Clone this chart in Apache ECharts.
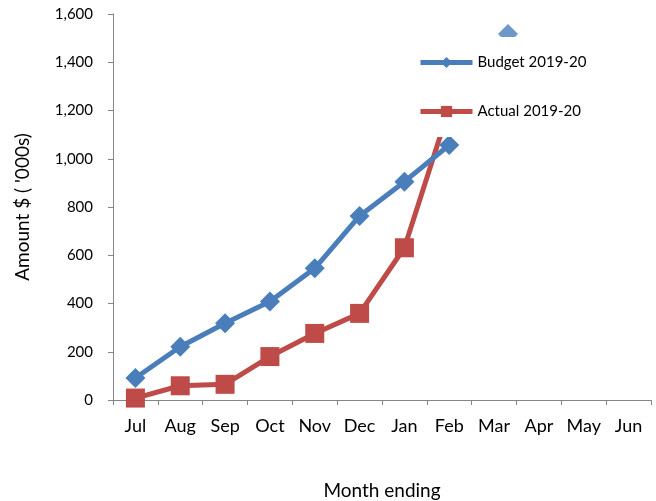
<!DOCTYPE html>
<html>
<head>
<meta charset="utf-8">
<script src="https://cdn.jsdelivr.net/npm/echarts@6/dist/echarts.min.js"></script>
<style>
html, body { margin: 0; padding: 0; background: #fff; }
#chart { width: 656px; height: 501px; }
</style>
</head>
<body>
<div id="chart"></div>
<script>
// 月份
var months = ['Jul', 'Aug', 'Sep', 'Oct', 'Nov', 'Dec', 'Jan', 'Feb', 'Mar', 'Apr', 'May', 'Jun'];
// 预算 / 实际 (千元)
var budget = [91, 221, 318, 408, 546, 763, 905, 1057];
var actual = [8, 59, 65, 180, 276, 359, 631, 1210];
// 图中多出的一个菱形标记 (x 为月份序号)
var strayMarker = [[8.81, 1517]];
var yTicks = { min: 0, max: 1600, step: 200 };

var blue = '#4A7EBB';
var red = '#BE4B48';
var font = 'Lato';

var chart = echarts.init(document.getElementById('chart'));

function fmtNum(v) {
	// 千位分隔
	return String(v).replace(/\B(?=(\d{3})+(?!\d))/g, ',');
}

chart.setOption({
	animation: false,
	textStyle: { fontFamily: font },
	grid: {
		left: 113,
		right: 5,
		top: 14,
		bottom: 101,
		containLabel: false,
		outerBoundsMode: 'none'
	},
	legend: {
		orient: 'vertical',
		left: 410,
		top: 37,
		data: ['Budget 2019-20', 'Actual 2019-20'],
		backgroundColor: '#fff',
		padding: [18, 50, 18, 8],
		itemWidth: 52,
		itemHeight: 14,
		itemGap: 34,
		lineStyle: { width: 5 },
		textStyle: { fontFamily: font, fontSize: 15, color: '#000' }
	},
	xAxis: [{
		type: 'category',
		data: months,
		boundaryGap: true,
		name: 'Month ending',
		nameLocation: 'middle',
		nameGap: 81,
		nameTextStyle: { fontFamily: font, fontSize: 19, color: '#000' },
		axisLine: { lineStyle: { color: '#868686', width: 1 } },
		axisTick: { show: true, alignWithLabel: false, length: 5, lineStyle: { color: '#868686' } },
		axisLabel: { fontFamily: font, fontSize: 18, color: '#000', margin: 17, interval: 0 },
		splitLine: { show: false }
	}, {
		type: 'value',
		min: 0,
		max: 12,
		show: false
	}],
	yAxis: {
		type: 'value',
		min: yTicks.min,
		max: yTicks.max,
		interval: yTicks.step,
		name: "Amount $ ( '000s)",
		nameLocation: 'middle',
		nameGap: 81,
		nameTextStyle: { fontFamily: font, fontSize: 19, color: '#000' },
		axisLine: { show: true, lineStyle: { color: '#868686', width: 1 } },
		axisTick: { show: true, length: 5, lineStyle: { color: '#868686' } },
		axisLabel: {
			fontFamily: font, fontSize: 15, color: '#000', margin: 20,
			formatter: function(v) { return fmtNum(v); }
		},
		splitLine: { show: false }
	},
	series: [{
		name: 'Budget 2019-20',
		type: 'line',
		data: budget,
		symbol: 'diamond',
		symbolSize: 20,
		lineStyle: { color: blue, width: 5 },
		itemStyle: { color: blue },
		z: 3
	}, {
		name: 'Actual 2019-20',
		type: 'line',
		data: actual,
		symbol: 'rect',
		symbolSize: 19,
		lineStyle: { color: red, width: 5 },
		itemStyle: { color: red },
		z: 2
	}, {
		name: 'extra',
		type: 'scatter',
		xAxisIndex: 1,
		data: strayMarker,
		symbol: 'diamond',
		symbolSize: 20,
		itemStyle: { color: blue },
		z: 2
	}]
});
</script>
</body>
</html>
